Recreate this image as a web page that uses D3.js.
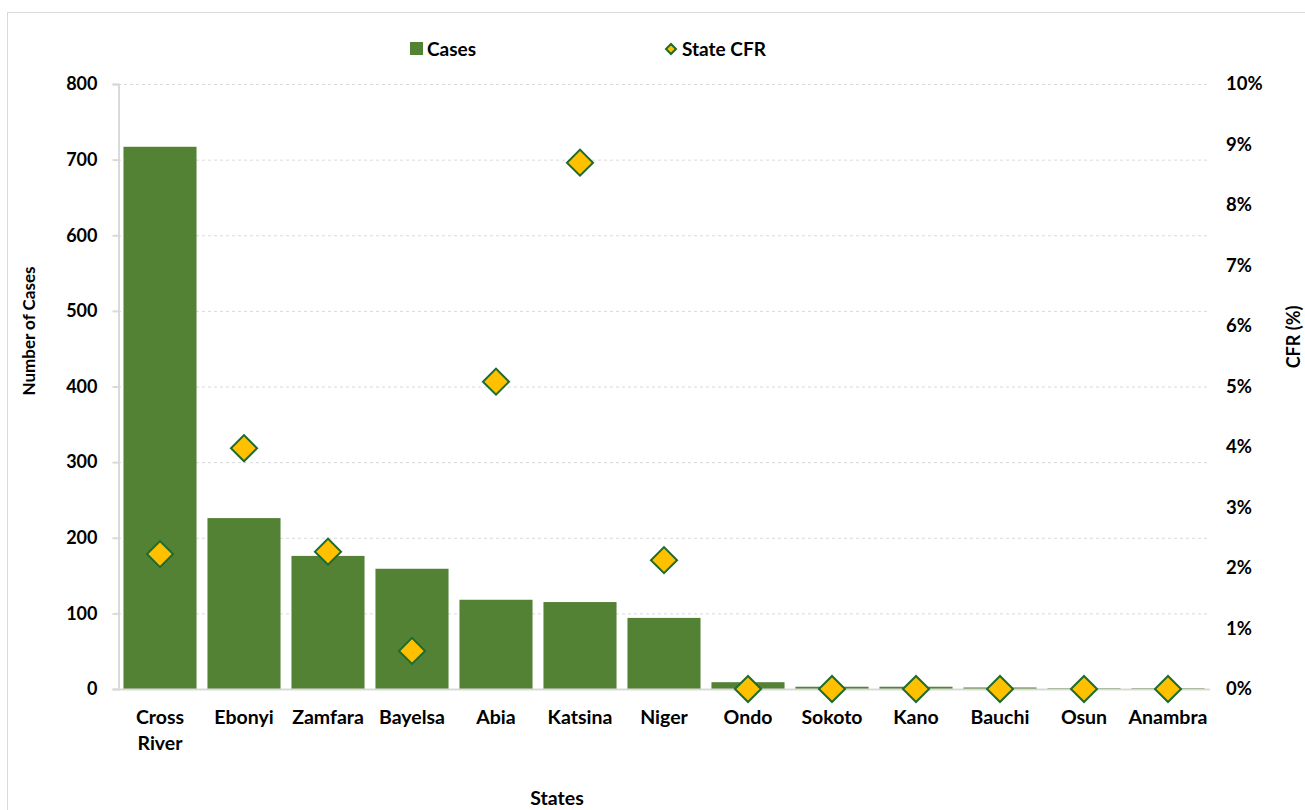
<!DOCTYPE html>
<html>
<head>
<meta charset="utf-8">
<script src="https://cdn.jsdelivr.net/npm/d3@7"></script>
<style>
  body { margin: 0; background: #fff; }
  text { font-family: Lato, "Open Sans", sans-serif; font-weight: bold; fill: #000; }
</style>
</head>
<body>
<script>
// data
var states = ["Cross River", "Ebonyi", "Zamfara", "Bayelsa", "Abia", "Katsina", "Niger",
              "Ondo", "Sokoto", "Kano", "Bauchi", "Osun", "Anambra"];
var cases = [717, 226, 176, 159, 118, 115, 94, 9, 3, 3, 2, 1, 1];
var cfr = [2.23, 3.98, 2.27, 0.63, 5.08, 8.70, 2.13, 0, 0, 0, 0, 0, 0];
var caseTicks = [0, 100, 200, 300, 400, 500, 600, 700, 800];
var cfrTicks = [0, 1, 2, 3, 4, 5, 6, 7, 8, 9, 10];

var w = 1305, h = 810;
var m = {top: 84, left: 118, right: 1210, bottom: 689};

var svg = d3.select("body").append("svg").attr("width", w).attr("height", h);

// outer frame
svg.append("rect")
  .attr("x", 7.5).attr("y", 12.5)
  .attr("width", w).attr("height", h)
  .attr("fill", "none").attr("stroke", "#d9d9d9");

var x = d3.scaleBand().domain(states).range([m.left, m.right]).paddingInner(0.13).paddingOuter(0.065);
var y = d3.scaleLinear().domain([0, 800]).range([m.bottom, m.top]);
var y2 = d3.scaleLinear().domain([0, 10]).range([m.bottom, m.top]);

// gridlines
svg.append("g").selectAll("line")
  .data(caseTicks.filter(function (d) { return d > 0; }))
  .join("line")
  .attr("x1", m.left).attr("x2", m.right)
  .attr("y1", function (d) { return y(d) + 0.5; })
  .attr("y2", function (d) { return y(d) + 0.5; })
  .attr("stroke", "#d9d9d9").attr("stroke-dasharray", "3,3");

// left axis
var yAxis = svg.append("g")
  .attr("transform", "translate(" + (m.left + 0.5) + ",0)")
  .call(d3.axisLeft(y).tickValues(caseTicks).tickSize(6).tickPadding(15));
yAxis.select(".domain").attr("stroke", "#d9d9d9").attr("stroke-width", 2);
yAxis.selectAll(".tick line").attr("stroke", "#d9d9d9").attr("stroke-width", 2);
yAxis.selectAll("text").style("font-size", "18px").attr("fill", "#000");

// right axis (labels only)
var y2Axis = svg.append("g")
  .attr("transform", "translate(" + m.right + ",0)")
  .call(d3.axisRight(y2).tickValues(cfrTicks).tickSize(0).tickPadding(16)
    .tickFormat(function (d) { return d + "%"; }));
y2Axis.select(".domain").remove();
y2Axis.selectAll("text").style("font-size", "18.5px").attr("fill", "#000");

// bars
svg.append("g").selectAll("rect")
  .data(states)
  .join("rect")
  .attr("x", function (d) { return x(d); })
  .attr("width", x.bandwidth())
  .attr("y", function (d, i) { return y(cases[i]); })
  .attr("height", function (d, i) { return y(0) - y(cases[i]); })
  .attr("fill", "#548235");

// baseline
svg.append("line")
  .attr("x1", m.left).attr("x2", m.right)
  .attr("y1", m.bottom + 0.5).attr("y2", m.bottom + 0.5)
  .attr("stroke", "#d9d9d9").attr("stroke-width", 2);

// category labels
var xl = svg.append("g").selectAll("text")
  .data(states)
  .join("text")
  .attr("text-anchor", "middle")
  .attr("x", function (d) { return x(d) + x.bandwidth() / 2; })
  .attr("y", 724)
  .style("font-size", "19.5px");
xl.each(function (d) {
  var t = d3.select(this);
  d.split(" ").forEach(function (word, k) {
    t.append("tspan")
      .attr("x", t.attr("x"))
      .attr("dy", k ? 26 : 0)
      .text(word);
  });
});

// CFR diamonds
var diamond = d3.symbol().type(d3.symbolSquare).size(340);
svg.append("g").selectAll("path")
  .data(states)
  .join("path")
  .attr("d", diamond)
  .attr("transform", function (d, i) {
    return "translate(" + (x(d) + x.bandwidth() / 2) + "," + y2(cfr[i]) + ") rotate(45)";
  })
  .attr("fill", "#ffc000")
  .attr("stroke", "#1e6b2e")
  .attr("stroke-width", 2);

// axis titles
svg.append("text")
  .attr("transform", "translate(35,331) rotate(-90)")
  .attr("text-anchor", "middle")
  .style("font-size", "17px")
  .text("Number of Cases");
svg.append("text")
  .attr("transform", "translate(1300,337) rotate(-90)")
  .attr("text-anchor", "middle")
  .style("font-size", "18px")
  .text("CFR (%)");
svg.append("text")
  .attr("x", 557).attr("y", 805)
  .attr("text-anchor", "middle")
  .style("font-size", "19.5px")
  .text("States");

// legend
var lg = svg.append("g");
lg.append("rect").attr("x", 410).attr("y", 42).attr("width", 13).attr("height", 13).attr("fill", "#548235");
lg.append("text").attr("x", 427).attr("y", 56).style("font-size", "19px").text("Cases");
lg.append("path")
  .attr("d", d3.symbol().type(d3.symbolSquare).size(50))
  .attr("transform", "translate(671,49) rotate(45)")
  .attr("fill", "#ffc000").attr("stroke", "#1e6b2e").attr("stroke-width", 2);
lg.append("text").attr("x", 682).attr("y", 56).style("font-size", "19px").text("State CFR");
</script>
</body>
</html>
